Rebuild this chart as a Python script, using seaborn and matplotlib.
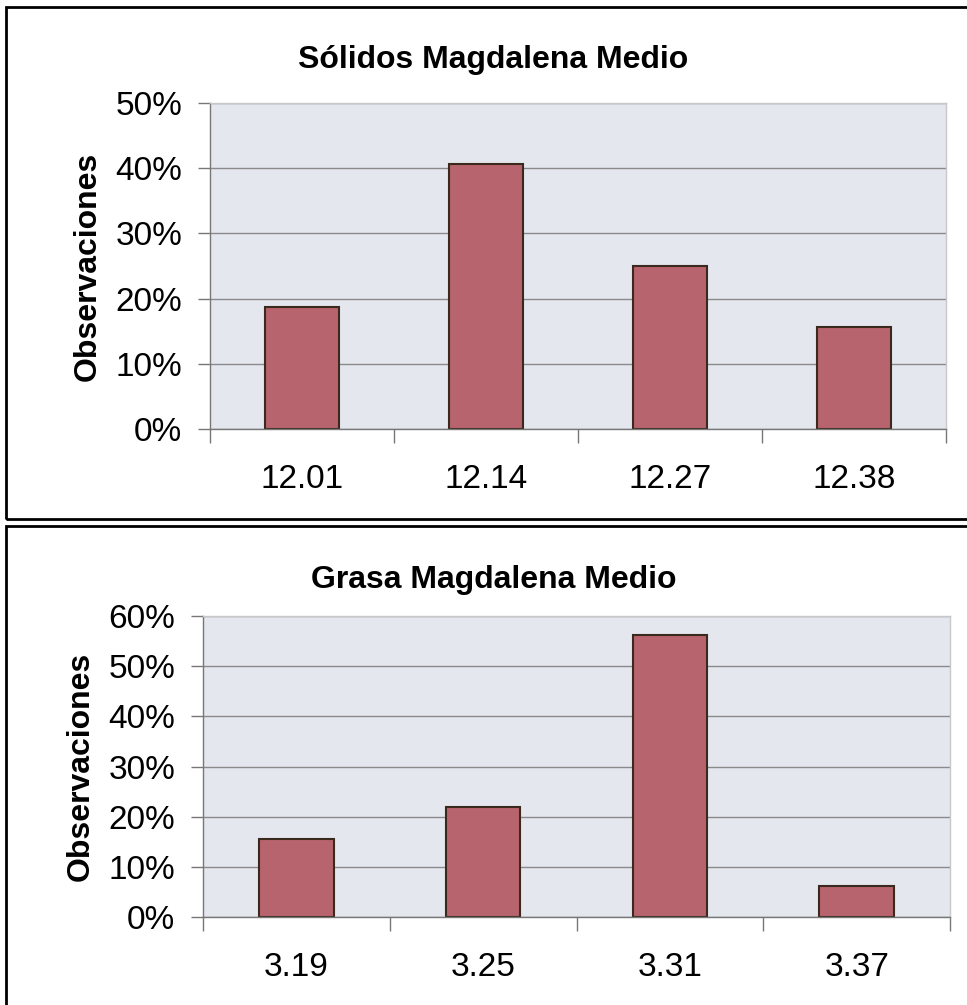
import matplotlib
matplotlib.use("Agg")
import matplotlib.pyplot as plt
import seaborn as sns
import pandas as pd
from matplotlib.ticker import FuncFormatter, FixedLocator
from matplotlib.patches import Rectangle

# Data
solidos_cats = ["12.01", "12.14", "12.27", "12.38"]
solidos_vals = [0.1875, 0.40625, 0.25, 0.15625]
grasa_cats = ["3.19", "3.25", "3.31", "3.37"]
grasa_vals = [0.15625, 0.21875, 0.5625, 0.0625]
titles = ["Sólidos Magdalena Medio", "Grasa Magdalena Medio"]
ylabel = "Observaciones"

sns.set_theme(style="white")
plt.rcParams['font.family'] = ['Liberation Sans', 'DejaVu Sans']
plt.rcParams['text.color'] = 'black'
plt.rcParams['axes.labelcolor'] = 'black'
plt.rcParams['xtick.color'] = 'black'
plt.rcParams['ytick.color'] = 'black'

W, H = 967, 1005
fig = plt.figure(figsize=(W / 100, H / 100), dpi=100)

bar_color = "#b8646e"
bg_color = "#e5e7ef"

def px_rect(l, t, r, b):
    return [l / W, 1 - b / H, (r - l) / W, (b - t) / H]

# Panel borders
fig.add_artist(Rectangle((6 / W, 1 - 519 / H), (980 - 6) / W, (519 - 7) / H,
                         transform=fig.transFigure, fill=False, edgecolor="black", lw=2))
fig.add_artist(Rectangle((6 / W, 1 - 1020 / H), (980 - 6) / W, (1020 - 526) / H,
                         transform=fig.transFigure, fill=False, edgecolor="black", lw=2))

specs = [
    (solidos_cats, solidos_vals, titles[0], (210, 103, 946, 429), 0.5, 0.1, 60, 103),
    (grasa_cats, grasa_vals, titles[1], (203, 616, 950, 917), 0.6, 0.1, 580, 96),
]

for cats, vals, title, box, ymax, step, title_y, ylab_x in specs:
    ax = fig.add_axes(px_rect(*box))
    df = pd.DataFrame({"cat": cats, "val": vals})
    sns.barplot(data=df, x="cat", y="val", ax=ax, color=bar_color, width=0.4,
                edgecolor="#3a2a1e", linewidth=1.5, saturation=1)
    ax.set_facecolor(bg_color)
    ax.set_xlim(-0.5, len(cats) - 0.5)
    ax.set_ylim(0, ymax)
    yt = [round(i * step, 2) for i in range(int(round(ymax / step)) + 1)]
    ax.set_yticks(yt)
    ax.yaxis.set_major_formatter(FuncFormatter(lambda v, p: f"{v*100:.0f}%"))
    ax.grid(axis="y", color="#8a8a8a", lw=1)
    ax.set_axisbelow(True)
    ax.set_xlabel("")
    ax.set_ylabel(ylabel, fontsize=23, fontweight="bold")
    l, t, r, b = box
    ax.yaxis.set_label_coords((ylab_x - l) / (r - l), 0.5)
    ax.tick_params(axis="x", which="major", length=0, labelsize=24, pad=25)
    ax.xaxis.set_minor_locator(FixedLocator([i - 0.5 for i in range(len(cats) + 1)]))
    ax.tick_params(axis="x", which="minor", length=10, color="#777777", width=1, bottom=True, direction="out")
    ax.tick_params(axis="y", length=9, color="#777777", width=1, labelsize=24, left=True, direction="out", pad=11)
    for s in ["left", "bottom"]:
        ax.spines[s].set_color("#777777")
        ax.spines[s].set_linewidth(1)
    for s in ["top", "right"]:
        ax.spines[s].set_color("#c8c8c8")
        ax.spines[s].set_linewidth(1)
    fig.text(0.5 + 10 / W, 1 - title_y / H, title, ha="center", va="center",
             fontsize=23, fontweight="bold")

fig.savefig("out.png", dpi=100, facecolor="white")
